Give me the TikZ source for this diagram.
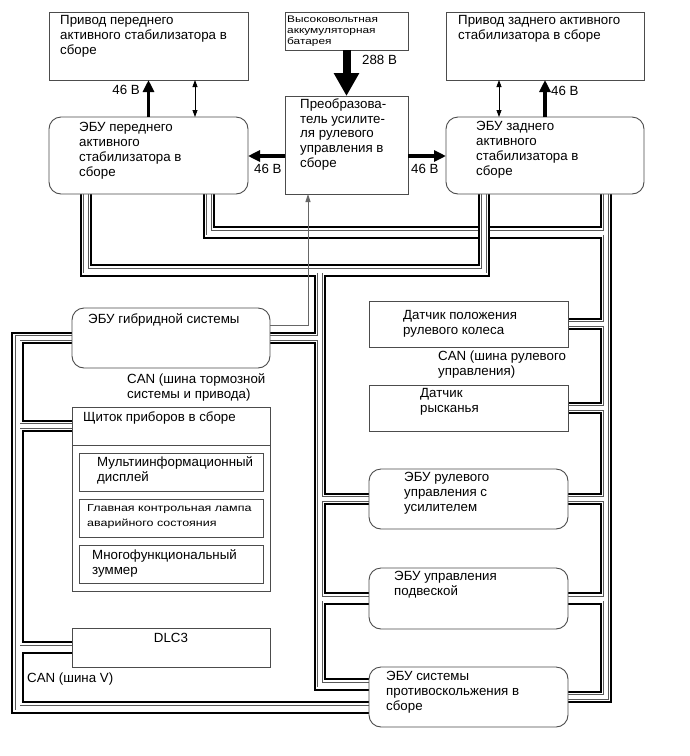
\documentclass[tikz,border=0pt]{standalone}
\usepackage{fontspec}
\setmainfont{Liberation Sans}
\newfontfamily\widesans[FakeStretch=1.25]{Liberation Sans}
\usetikzlibrary{arrows.meta}
\pgfdeclarelayer{bg}
\pgfsetlayers{bg,main}
\newcommand\mybox[6]{\node[#2,minimum width={#5-#3},minimum height={#6-#4}] (#1) at (#3,#4) {};}
\newcommand\busall[1]{%
 \draw[#1] ([xshift=-62.5pt]fe.south) |- (jA) -| ([xshift=-61pt]re.south);
 \draw[#1] (jA) |- ([yshift=12.5pt]sk.west);
 \draw[#1] (hy.east) -- (hy.east -| jA);
 \draw[#1] (eps.west) -- (eps.west -| jA);
 \draw[#1] (sus.west) -- (sus.west -| jA);
 \draw[#1] ([xshift=60.5pt]fe.south) |- (jB);
 \draw[#1] ([xshift=61pt]re.south) |- (sk.east);
 \draw[#1] (st.east) -- (st.east -| jB);
 \draw[#1] (yaw.east) -- (yaw.east -| jB);
 \draw[#1] (eps.east) -- (eps.east -| jB);
 \draw[#1] (sus.east) -- (sus.east -| jB);
 \draw[#1] (hy.west) -| (jL) -- (jL -| sk.west);
 \draw[#1] ([yshift=-19pt]cl.north west) -- (cL);
 \draw[#1] (dlc.west) -- (dlc.west -| jL);
}
\newcommand\busover[1]{\draw[#1] (jA2) -| ([xshift=-61pt]re.south);}
\begin{document}
\begin{tikzpicture}[x=1pt,y=-1pt,
  box/.style={draw=black!70, line width=0.9pt, fill=white, inner sep=0pt, outer sep=0pt, anchor=north west},
  rbox/.style={box, rounded corners=12pt},
  txt/.style={font=\fontsize{13.3}{14.7}\selectfont, align=left, inner sep=0pt, anchor=north west},
  txts/.style={txt, font=\widesans\fontsize{9.5}{11}\selectfont},
  txtl/.style={txt, font=\widesans\fontsize{10}{15}\selectfont},
  bl1/.style={line width=12.5pt, black, line join=miter},
  bl2/.style={line width=8.5pt, white, line join=miter},
  bl3/.style={line width=5.6pt, black!65, line join=miter},
  bl4/.style={line width=4pt, white, line join=miter},
  pow/.style={line width=3.5pt, -{Triangle[length=12pt,width=11pt]}},
  hv/.style={line width=8pt, -{Triangle[length=23pt,width=24pt]}},
  dbl/.style={line width=0.8pt, {Triangle[length=7pt,width=5pt]}-{Triangle[length=7pt,width=5pt]}},
  gry/.style={line width=0.9pt, black!60, -{Triangle[length=8pt,width=5pt]}},
  sepl/.style={draw=black!70, line width=0.9pt}
]
\useasboundingbox (0,0) rectangle (690,756);
% boxes
\mybox{fa}{box}{49}{12}{248}{80}
\mybox{bat}{box}{285}{12}{408}{50}
\mybox{ra}{box}{446}{12}{644}{80}
\mybox{fe}{rbox}{49}{117}{248}{194}
\mybox{conv}{box}{285}{96}{408}{194}
\mybox{re}{rbox}{446}{117}{644}{194}
\mybox{hy}{rbox}{72}{308}{270}{368}
\mybox{cl}{box}{72}{407}{270}{591}
\mybox{md}{box}{79}{453}{263}{491}
\mybox{lamp}{box}{79}{499}{263}{537}
\mybox{buz}{box}{79}{545}{263}{583}
\mybox{dlc}{box}{72}{628}{270}{667}
\mybox{st}{box}{369}{301}{568}{347}
\mybox{yaw}{box}{369}{385}{568}{431}
\mybox{eps}{rbox}{369}{469}{568}{529}
\mybox{sus}{rbox}{369}{568}{568}{629}
\mybox{sk}{rbox}{369}{667}{568}{727}
\draw[sepl] ([yshift=-38pt]cl.north west) -- ([yshift=-38pt]cl.north east);
% junctions
\coordinate (jA) at (320,270.5);
\coordinate (jA2) at (440,270.5);
\coordinate (jB) at (606,232.5);
\coordinate (jL) at (17.5,707.5);
\coordinate (cL) at (17.5,426);
% buses
\begin{pgfonlayer}{bg}
\fill[white] (0,0) rectangle (690,756);
\busall{bl1}\busall{bl2}\busall{bl3}\busall{bl4}
\busover{bl1}\busover{bl2}\busover{bl3}\busover{bl4}
\end{pgfonlayer}
% texts
\node[txt] (tfa) at (60,15.5) {Привод переднего\\активного стабилизатора в\\сборе};
\node[txts] (tbat) at (287,16) {Высоковольтная\\аккумуляторная\\батарея};
\node[txt] (tra) at (458,15.5) {Привод заднего активного\\стабилизатора в сборе};
\node[txt] (tfe) at (79,122.5) {ЭБУ переднего\\активного\\стабилизатора в\\сборе};
\node[txt] (tconv) at (300,98.5) {Преобразова-\\тель усилите-\\ля рулевого\\управления в\\сборе};
\node[txt] (tre) at (476,121.5) {ЭБУ заднего\\активного\\стабилизатора в\\сборе};
\node[txt] (thy) at (88,313.5) {ЭБУ гибридной системы};
\node[txt] (tcan1) at (127,373.5) {CAN (шина тормозной\\системы и привода)};
\node[txt] (tcl) at (83,411.5) {Щиток приборов в сборе};
\node[txt] (tmd) at (97,456.5) {Мультиинформационный\\дисплей};
\node[txtl] (tlamp) at (87,504.7) {Главная контрольная лампа\\аварийного состояния};
\node[txt] (tbuz) at (92,549.5) {Многофункциональный\\зуммер};
\node[txt, anchor=north] (tdlc) at (171,633.5) {DLC3};
\node[txt] (tcanv) at (27,672.5) {CAN (шина V)};
\node[txt] (tst) at (403,310.5) {Датчик положения\\рулевого колеса};
\node[txt] (tcan2) at (438,350.5) {CAN (шина рулевого\\управления)};
\node[txt] (tyaw) at (420,388.5) {Датчик\\рысканья};
\node[txt] (teps) at (404,472.5) {ЭБУ рулевого\\управления с\\усилителем};
\node[txt] (tsus) at (394,571.5) {ЭБУ управления\\подвеской};
\node[txt] (tsk) at (386,671.5) {ЭБУ системы\\противоскольжения в\\сборе};
% arrows
\draw[hv] (bat.south) -- (conv.north);
\draw[pow] (fe.north) -- (fa.south);
\draw[pow] (re.north) -- (ra.south);
\draw[pow] ([yshift=-11pt]conv.west) -- ([yshift=-0.5pt]fe.east);
\draw[pow] ([yshift=-11pt]conv.east) -- ([yshift=-0.5pt]re.west);
\draw[dbl] ([xshift=46.5pt]fe.north) -- ([xshift=46.5pt]fa.south);
\draw[dbl] ([xshift=-46pt]re.north) -- ([xshift=-46pt]ra.south);
\draw[gry] ([yshift=13pt]hy.east) -| ([xshift=-38.5pt]conv.south);
% labels
\node[txt, anchor=north east] (l1) at (140,85.5) {46 В};
\node[txt] (l2) at (362,55.5) {288 В};
\node[txt] (l3) at (551,86.5) {46 В};
\node[txt] (l4) at (254,164.5) {46 В};
\node[txt] (l5) at (411,164.5) {46 В};
\end{tikzpicture}
\end{document}
